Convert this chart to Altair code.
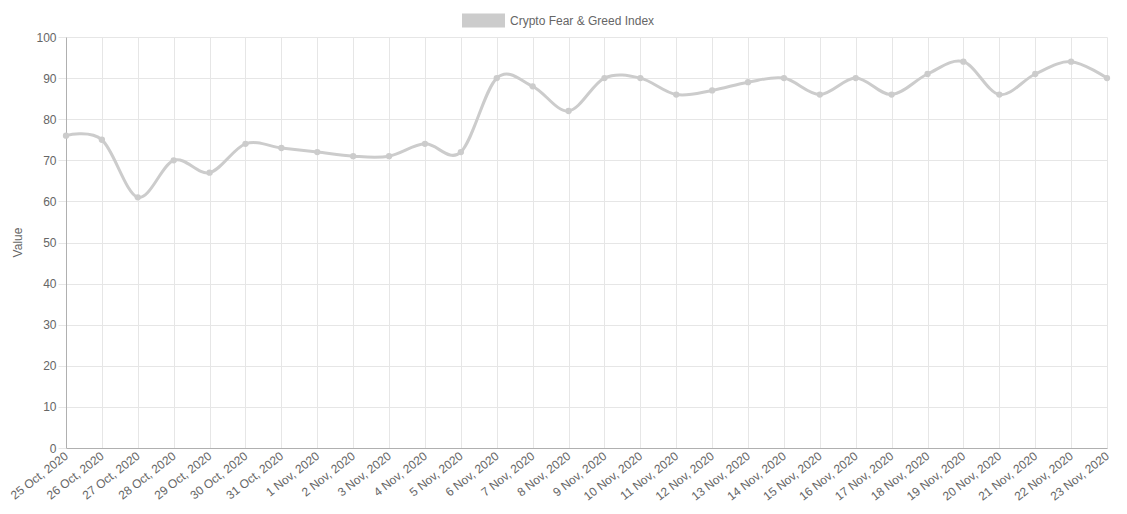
"""Crypto Fear & Greed Index, 25 Oct - 23 Nov 2020."""

import pandas as pd
import altair as alt

# data
dates = [
    "25 Oct, 2020", "26 Oct, 2020", "27 Oct, 2020", "28 Oct, 2020", "29 Oct, 2020",
    "30 Oct, 2020", "31 Oct, 2020", "1 Nov, 2020", "2 Nov, 2020", "3 Nov, 2020",
    "4 Nov, 2020", "5 Nov, 2020", "6 Nov, 2020", "7 Nov, 2020", "8 Nov, 2020",
    "9 Nov, 2020", "10 Nov, 2020", "11 Nov, 2020", "12 Nov, 2020", "13 Nov, 2020",
    "14 Nov, 2020", "15 Nov, 2020", "16 Nov, 2020", "17 Nov, 2020", "18 Nov, 2020",
    "19 Nov, 2020", "20 Nov, 2020", "21 Nov, 2020", "22 Nov, 2020", "23 Nov, 2020",
]
values = [
    76, 75, 61, 70, 67, 74, 73, 72, 71, 71,
    74, 72, 90, 88, 82, 90, 90, 86, 87, 89,
    90, 86, 90, 86, 91, 94, 86, 91, 94, 90,
]
series = "Crypto Fear & Greed Index"

df = pd.DataFrame({"date": dates, "value": values, "series": series})

grey = "#cccccc"
font = "Liberation Sans"

x_enc = alt.X(
    "date:N",
    sort=dates,
    scale=alt.Scale(type="point", padding=0),
    axis=alt.Axis(
        title=None,
        labelAngle=-38,
        labelAlign="right",
        labelBaseline="middle",
        labelPadding=6,
        ticks=False,
        grid=True,
        gridColor="#e6e6e6",
        domainColor="#b0b0b0",
        labelColor="#666666",
        labelFont=font,
        labelFontSize=12,
        labelOverlap=False,
    ),
)
y_enc = alt.Y(
    "value:Q",
    scale=alt.Scale(domain=[0, 100], nice=False, zero=True),
    axis=alt.Axis(
        title="Value",
        values=list(range(0, 101, 10)),
        tickSize=8,
        tickColor="#e6e6e6",
        labelPadding=2,
        grid=True,
        gridColor="#e6e6e6",
        domainColor="#b0b0b0",
        labelColor="#666666",
        labelFont=font,
        labelFontSize=12,
        titleColor="#666666",
        titleFont=font,
        titleFontSize=12,
        titleFontWeight="normal",
        titleX=-49,
        titleY=205,
        titleAlign="center",
        titleBaseline="middle",
    ),
)

color_enc = alt.Color(
    "series:N",
    scale=alt.Scale(range=[grey]),
    legend=alt.Legend(
        title=None,
        orient="none",
        legendX=396,
        legendY=-38,
        symbolType="M-1,-0.33H1V0.33H-1Z",
        symbolSize=1849,
        symbolFillColor=grey,
        symbolStrokeColor=grey,
        symbolStrokeWidth=0,
        labelColor="#666666",
        labelFont=font,
        labelFontSize=12,
        labelOffset=5,
    ),
)

line = (
    alt.Chart(df)
    .mark_line(interpolate="cardinal", strokeWidth=3)
    .encode(x=x_enc, y=y_enc, color=color_enc)
)
points = (
    alt.Chart(df)
    .mark_circle(size=40, opacity=1, color=grey)
    .encode(x=x_enc, y=y_enc)
)

chart = (
    alt.layer(line, points)
    .properties(
        width=1041,
        height=411,
        autosize=alt.AutoSizeParams(type="none"),
        padding={"left": 58, "top": 29, "right": 12, "bottom": 58},
    )
    .configure_view(stroke=None)
)

chart.save("out.html", embed_options={"renderer": "svg", "actions": False})
